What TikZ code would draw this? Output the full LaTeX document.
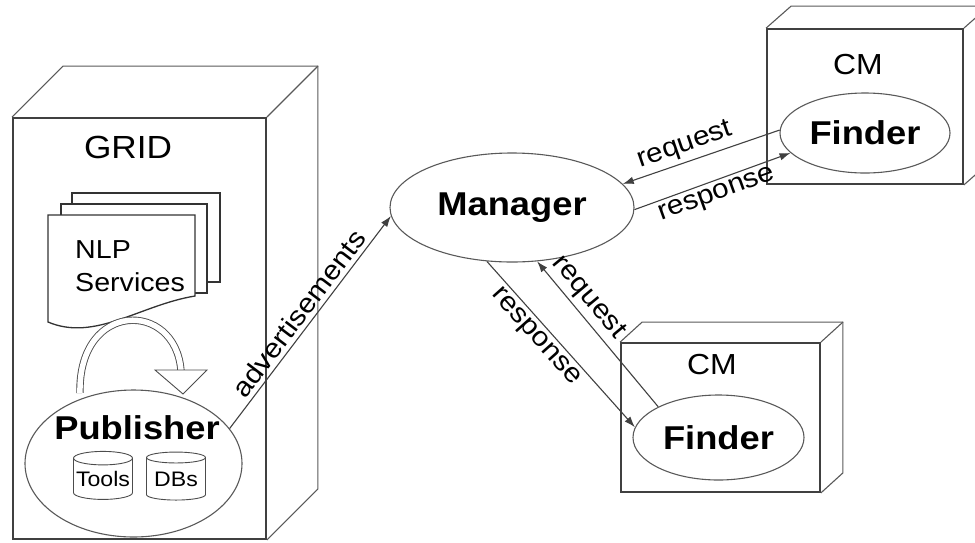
\documentclass[tikz,border=0pt]{standalone}
\usepackage{fontspec}
\setmainfont[FakeStretch=1.1]{Liberation Sans}
\usetikzlibrary{arrows.meta,shapes.geometric}

\begin{document}
\begin{tikzpicture}[x=1pt,y=-1pt,>={Latex[length=11pt,width=7.5pt]},
  box/.style={draw=black!75,line width=1.8pt,inner sep=0pt},
  edge3d/.style={draw=black!65,line width=1.1pt},
  oval/.style={ellipse,draw=black!65,line width=1.1pt,inner sep=0pt},
  title/.style={font=\fontsize{32}{32}\selectfont},
  boldtxt/.style={font=\bfseries\fontsize{33}{33}\selectfont},
  lbl/.style={font=\fontsize{27}{27}\selectfont,sloped,inner sep=4pt},
  link/.style={->,draw=black!75,line width=1.1pt},
  page/.style={draw=black!80,line width=1.3pt,fill=white},
  drum/.style={cylinder,shape border rotate=90,aspect=0.25,draw=black!70,line width=0.9pt,
    minimum width=59pt,minimum height=48pt,inner sep=0pt,font=\fontsize{21}{21}\selectfont}]
\clip (0,0) rectangle (975,542);

% GRID cube
\node[box,minimum width=253pt,minimum height=421pt] (gridbox) at (139.5,328.5) {};
\draw[edge3d] (gridbox.north west) -- ++(51,-51) -| ([shift={(51,-51)}]gridbox.south east) -- (gridbox.south east);
\draw[edge3d] (gridbox.north east) -- ++(51,-51);
\node[title] (grid) at (128,147) {GRID};

% stack of service pages
\draw[page] (72,193) rectangle (220,282);
\draw[page] (61,204) rectangle (207,293);
\draw[page] (48,215) -- (195,215) -- (195,296) .. controls (140,305) and (95,342) .. (48,322) -- cycle;
\node[font=\fontsize{26}{33}\selectfont,align=left,anchor=west,inner sep=0pt] (nlp) at (75,266) {NLP\\Services};

% publisher
\node[oval,minimum width=217pt,minimum height=147pt] (pub) at (133.5,463.5) {};
\node[boldtxt] (pubtxt) at (137,428) {Publisher};
\node[drum] (tools) at (103,479) {Tools};
\node[drum] (dbs) at (176,479) {DBs};

% hollow loop arrow
\draw[draw=black!70,double=white,double distance=5.5pt,line width=0.9pt] (80,393) .. controls (78,300) and (176,300) .. (181,371);
\draw[draw=black!70,fill=white,line width=0.9pt] (155,370) -- (207,370) -- (183,394) -- cycle;

% manager
\node[oval,boldtxt,minimum width=244pt,minimum height=109pt] (mgr) at (512,207.5) {Manager};

% upper CM
\node[box,minimum width=196pt,minimum height=155pt] (cmboxA) at (865,106.5) {};
\draw[edge3d] (cmboxA.north west) -- ++(25,-22) -| ([shift={(25,-22)}]cmboxA.south east) -- (cmboxA.south east);
\draw[edge3d] (cmboxA.north east) -- ++(25,-22);
\node[title,font=\fontsize{29}{29}\selectfont] (cmA) at (858,65) {CM};
\node[oval,boldtxt,minimum width=170pt,minimum height=80pt] (finderA) at (865,133) {Finder};

% lower CM
\node[box,minimum width=199pt,minimum height=149pt] (cmboxB) at (720.5,417.5) {};
\draw[edge3d] (cmboxB.north west) -- ++(22,-20) -| ([shift={(22,-20)}]cmboxB.south east) -- (cmboxB.south east);
\draw[edge3d] (cmboxB.north east) -- ++(22,-20);
\node[title,font=\fontsize{29}{29}\selectfont] (cmB) at (712,365) {CM};
\node[oval,boldtxt,minimum width=171pt,minimum height=85pt] (finderB) at (718.5,437.5) {Finder};

% messages
\draw[link] (pub.20) -- node[lbl,above] {advertisements} (mgr.184);
\draw[link] (finderA.178) -- node[lbl,above,pos=0.57] {request} (mgr.12);
\draw[link] (mgr.-1) -- node[lbl,below] {response} (finderA.195);
\draw[link] (finderB.153) -- node[lbl,above,pos=0.68] {request} (mgr.-65);
\draw[link] (mgr.245) -- node[lbl,below,pos=0.4] {response} (finderB.173);
\end{tikzpicture}
\end{document}
